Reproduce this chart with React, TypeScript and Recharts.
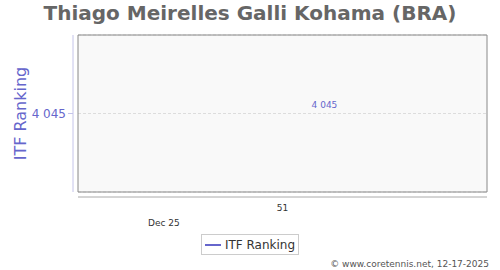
import React from 'react'
import { LineChart, Line, XAxis, YAxis, CartesianGrid, Legend, LabelList } from 'recharts'

// ITF ranking by date (day of December 2025)
const days = [17]
const ranking = [4045]
const yTicks = [4045]
// ISO week 51 starts on Monday 15 December 2025
const weekTicks = [15]
const weekLabels = ['51']
const monthLabel = 'Dec 25'

const data = days.map((day, i) => ({ day, rank: ranking[i] }))

const FONT = '"DejaVu Sans", Verdana, sans-serif'
const BLUE = '#6666cc'

const fmt = (v: number) => String(v).replace(/\B(?=(\d{3})+(?!\d))/g, ' ')
const weekFmt = (v: number) => weekLabels[weekTicks.indexOf(v)] ?? ''

const LegendBox = () => (
  <div style={{ height: 28, display: 'flex', justifyContent: 'center', alignItems: 'flex-end', fontFamily: FONT }}>
    <div style={{ border: '1px solid #ccc', height: 19, display: 'flex', alignItems: 'center', padding: '0 3px', background: '#fff' }}>
      <span style={{ display: 'inline-block', width: 16, height: 2, background: BLUE, marginRight: 4 }} />
      <span style={{ fontSize: 12, color: '#333' }}>ITF Ranking</span>
    </div>
  </div>
)

const YLabel = (props: any) => {
  const { x, y, height } = props.viewBox
  const cx = x + 20
  const cy = y + height / 2
  return (
    <text x={cx} y={cy} transform={`rotate(-90 ${cx} ${cy})`} textAnchor="middle" dominantBaseline="central" fill={BLUE} fontSize={16} fontFamily={FONT}>
      ITF Ranking
    </text>
  )
}

export default function App() {
  return (
    <div style={{ position: 'absolute', left: 0, top: 0, width: 500, height: 270, background: '#fff', fontFamily: FONT }}>
      <div style={{ position: 'absolute', left: 0, top: 1, width: 500, textAlign: 'center', fontSize: 20, fontWeight: 'bold', color: '#666' }}>
        Thiago Meirelles Galli Kohama (BRA)
      </div>
      <LineChart width={500} height={270} data={data} margin={{ top: 35, right: 13, left: 0, bottom: 15 }}>
        <CartesianGrid xAxisId="main" yAxisId="main" vertical={false} stroke="#ddd" strokeDasharray="3 2" fill="#f9f9f9" />
        <CartesianGrid
          xAxisId="main"
          yAxisId="main"
          stroke="#888"
          syncWithTicks={false}
          horizontalCoordinatesGenerator={({ offset }: any) => [offset.top, offset.top + offset.height]}
          verticalCoordinatesGenerator={({ offset }: any) => [offset.left, offset.left + offset.width]}
        />
        <YAxis yAxisId="gap" width={5} tick={false} axisLine={false} tickLine={false} domain={[4044, 4046]} />
        <YAxis
          yAxisId="main"
          width={73}
          domain={[4044, 4046]}
          ticks={yTicks}
          tickFormatter={fmt}
          axisLine={{ stroke: '#c4c4ea' }}
          tickLine={{ stroke: '#c4c4ea' }}
          tickSize={5}
          tick={{ fill: BLUE, fontSize: 12, fontFamily: FONT }}
          label={{ content: <YLabel /> }}
        />
        <XAxis xAxisId="gap" dataKey="day" type="number" domain={[5.25, 24.75]} height={5} tick={false} axisLine={false} tickLine={false} />
        <XAxis
          xAxisId="main"
          dataKey="day"
          type="number"
          domain={[5.25, 24.75]}
          ticks={weekTicks}
          tickFormatter={weekFmt}
          height={14}
          axisLine={{ stroke: '#aaa' }}
          tickLine={false}
          tick={{ fill: '#333', fontSize: 9, fontFamily: FONT }}
        />
        <XAxis
          xAxisId="month"
          dataKey="day"
          type="number"
          domain={[5.25, 24.75]}
          height={16}
          tick={false}
          axisLine={false}
          tickLine={false}
          label={{ value: monthLabel, position: 'insideLeft', offset: 70, dy: 4, fill: '#333', fontSize: 9, fontFamily: FONT }}
        />
        <Legend verticalAlign="bottom" content={<LegendBox />} wrapperStyle={{ left: 0, width: 500 }} />
        <Line xAxisId="main" yAxisId="main" type="linear" dataKey="rank" stroke={BLUE} strokeWidth={2} dot={{ r: 0, strokeWidth: 0 }} activeDot={false} isAnimationActive={false}>
          <LabelList dataKey="rank" position="top" offset={6} formatter={(v: any) => fmt(Number(v))} fill={BLUE} fontSize={9} fontFamily={FONT} />
        </Line>
      </LineChart>
      <div style={{ position: 'absolute', right: 11, top: 259, fontSize: 9, color: '#555' }}>
        © www.coretennis.net, 12-17-2025
      </div>
    </div>
  )
}
